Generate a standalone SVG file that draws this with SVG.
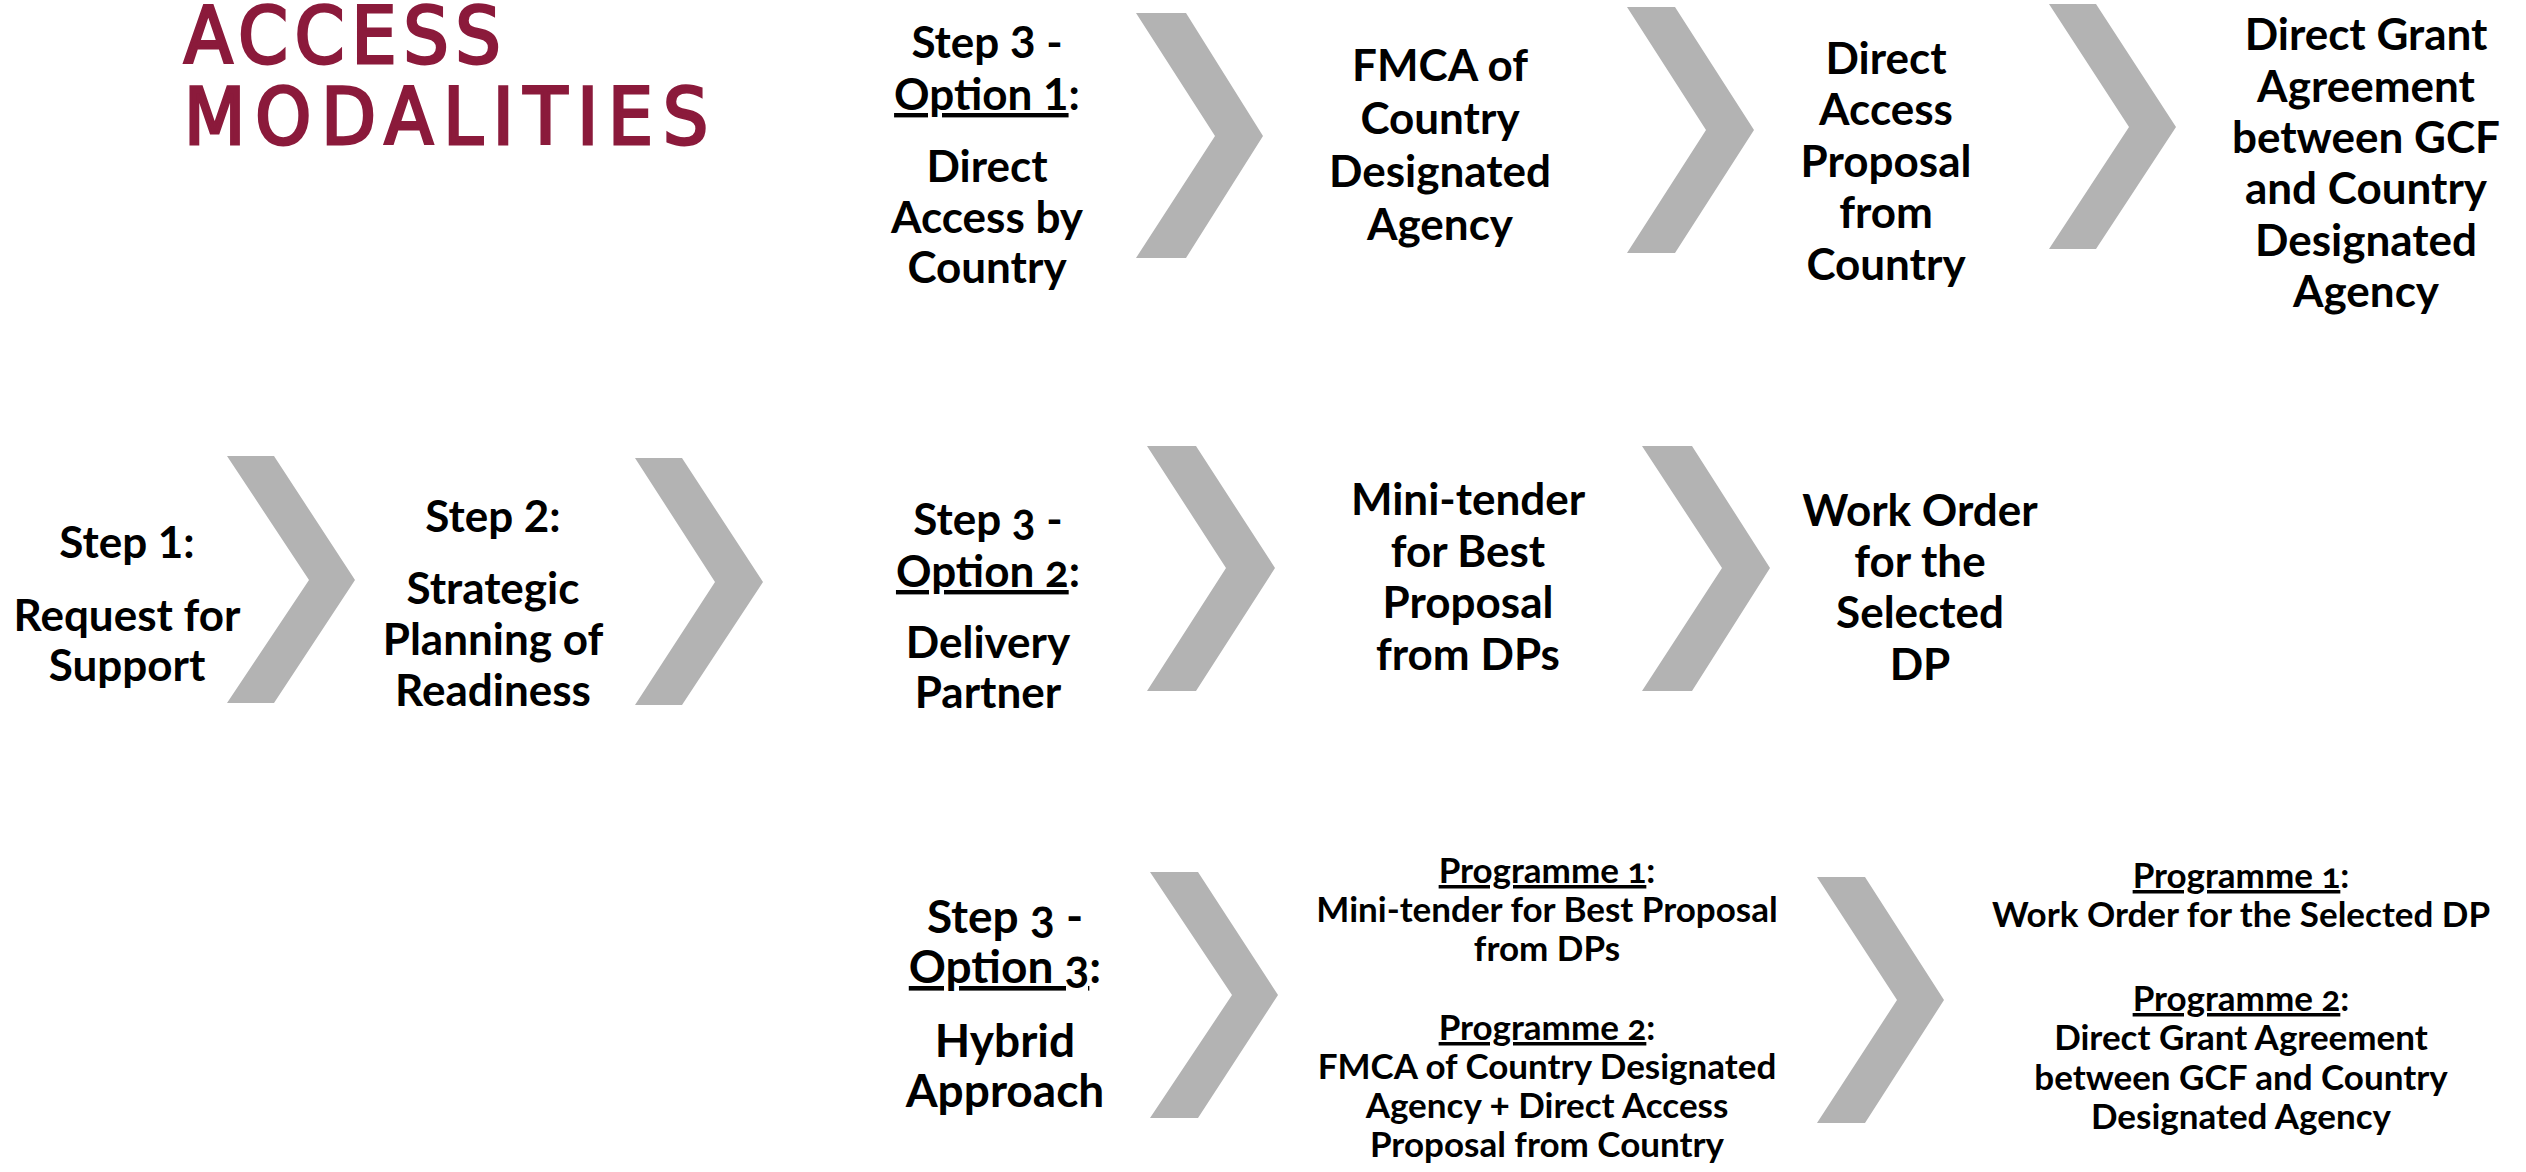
<svg xmlns="http://www.w3.org/2000/svg" width="2526" height="1172" viewBox="0 0 2526 1172">
<style>
.bg{fill:#ffffff}
.title{font-family:"DejaVu Sans",sans-serif;font-stretch:condensed;font-weight:normal;font-size:79px;fill:#8B1A3B;stroke:#8B1A3B;stroke-width:3}
.t{font-family:Lato,"Liberation Sans",sans-serif;font-weight:bold;fill:#000;text-anchor:middle}
.b{font-size:44px}
.s{font-size:35px}
.h{font-size:46px}
.on{font-variant-numeric:oldstyle-nums}
.u{text-decoration:underline}
.chev{fill:#B3B3B3}
</style>
<rect class="bg" x="0" y="0" width="2526" height="1172"/>

<g id="title">
<text class="title" x="184" y="63" letter-spacing="7">ACCESS</text>
<text class="title" x="184" y="144" letter-spacing="10">MODALITIES</text>
</g>

<g id="connectors">
<polygon class="chev" points="1136,13 1186,13 1263,136 1186,258 1136,258 1215,136"/>
<polygon class="chev" points="1627,7 1675,7 1754,130 1675,253 1627,253 1706,130"/>
<polygon class="chev" points="2049,4 2096,4 2176,127 2096,249 2049,249 2129,127"/>
<polygon class="chev" points="227,456 274,456 355,580 274,703 227,703 309,580"/>
<polygon class="chev" points="635,458 682,458 763,582 682,705 635,705 715,582"/>
<polygon class="chev" points="1147,446 1196,446 1275,568 1196,691 1147,691 1226,568"/>
<polygon class="chev" points="1642,446 1692,446 1770,568 1692,691 1642,691 1722,568"/>
<polygon class="chev" points="1150,872 1198,872 1278,995 1198,1118 1150,1118 1232,995"/>
<polygon class="chev" points="1817,877 1865,877 1944,1000 1865,1123 1817,1123 1897,1000"/>
</g>

<g id="step3-option1">
<text class="t b" x="987" y="58">Step 3 -</text>
<text class="t b" x="987" y="110"><tspan class="u">Option 1</tspan>:</text>
<text class="t b" x="987" y="182">Direct</text>
<text class="t b" x="987" y="233">Access by</text>
<text class="t b" x="987" y="283">Country</text>
</g>

<g id="fmca">
<text class="t b" x="1440" y="81">FMCA of</text>
<text class="t b" x="1440" y="134">Country</text>
<text class="t b" x="1440" y="187">Designated</text>
<text class="t b" x="1440" y="240">Agency</text>
</g>

<g id="direct-access-proposal">
<text class="t b" x="1886" y="74">Direct</text>
<text class="t b" x="1886" y="125">Access</text>
<text class="t b" x="1886" y="177">Proposal</text>
<text class="t b" x="1886" y="228">from</text>
<text class="t b" x="1886" y="280">Country</text>
</g>

<g id="direct-grant">
<text class="t b" x="2366" y="50">Direct Grant</text>
<text class="t b" x="2366" y="102">Agreement</text>
<text class="t b" x="2366" y="153">between GCF</text>
<text class="t b" x="2366" y="204">and Country</text>
<text class="t b" x="2366" y="256">Designated</text>
<text class="t b" x="2366" y="307">Agency</text>
</g>

<g id="step1">
<text class="t b" x="127" y="558">Step 1:</text>
<text class="t b" x="127" y="631">Request for</text>
<text class="t b" x="127" y="681">Support</text>
</g>

<g id="step2">
<text class="t b" x="493" y="532">Step 2:</text>
<text class="t b" x="493" y="604">Strategic</text>
<text class="t b" x="493" y="655">Planning of</text>
<text class="t b" x="493" y="706">Readiness</text>
</g>

<g id="step3-option2">
<text class="t b on" x="988" y="535">Step 3 -</text>
<text class="t b on" x="988" y="587"><tspan class="u">Option 2</tspan>:</text>
<text class="t b" x="988" y="658">Delivery</text>
<text class="t b" x="988" y="708">Partner</text>
</g>

<g id="mini-tender">
<text class="t b" x="1468" y="515">Mini-tender</text>
<text class="t b" x="1468" y="567">for Best</text>
<text class="t b" x="1468" y="618">Proposal</text>
<text class="t b" x="1468" y="670">from DPs</text>
</g>

<g id="work-order">
<text class="t b" x="1920" y="526">Work Order</text>
<text class="t b" x="1920" y="577">for the</text>
<text class="t b" x="1920" y="628">Selected</text>
<text class="t b" x="1920" y="680">DP</text>
</g>

<g id="step3-option3">
<text class="t h on" x="1005" y="933">Step 3 -</text>
<text class="t h on" x="1005" y="983"><tspan class="u">Option 3</tspan>:</text>
<text class="t h" x="1005" y="1057">Hybrid</text>
<text class="t h" x="1005" y="1107">Approach</text>
</g>

<g id="hybrid-programmes">
<text class="t s on" x="1547" y="883"><tspan class="u">Programme 1</tspan>:</text>
<text class="t s" x="1547" y="922">Mini-tender for Best Proposal</text>
<text class="t s" x="1547" y="961">from DPs</text>
<text class="t s on" x="1547" y="1040"><tspan class="u">Programme 2</tspan>:</text>
<text class="t s" x="1547" y="1079">FMCA of Country Designated</text>
<text class="t s" x="1547" y="1118">Agency + Direct Access</text>
<text class="t s" x="1547" y="1157">Proposal from Country</text>
</g>

<g id="hybrid-outcomes">
<text class="t s on" x="2241" y="888"><tspan class="u">Programme 1</tspan>:</text>
<text class="t s" x="2241" y="927">Work Order for the Selected DP</text>
<text class="t s on" x="2241" y="1011"><tspan class="u">Programme 2</tspan>:</text>
<text class="t s" x="2241" y="1050">Direct Grant Agreement</text>
<text class="t s" x="2241" y="1090">between GCF and Country</text>
<text class="t s" x="2241" y="1129">Designated Agency</text>
</g>
</svg>
